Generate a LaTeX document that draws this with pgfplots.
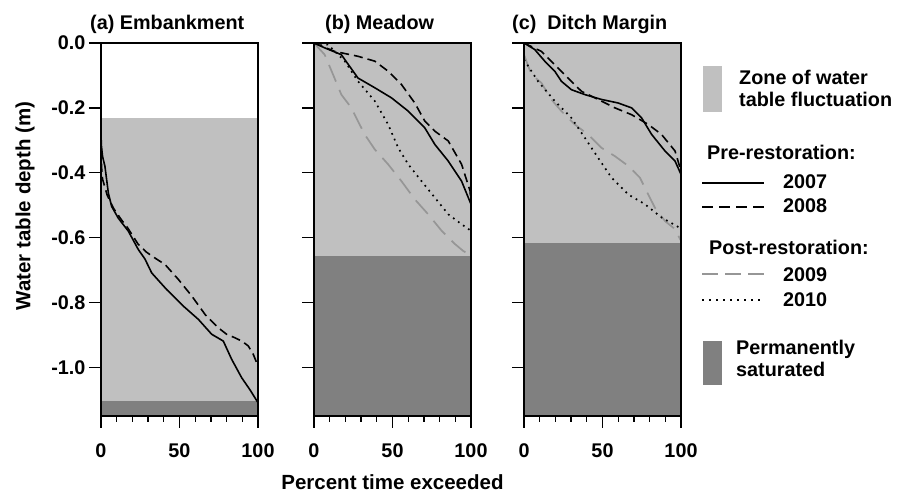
\documentclass[border=0pt]{standalone}
\usepackage{pgfplots}
\pgfplotsset{compat=1.18}
\usepackage{fontspec}
\setmainfont{Liberation Sans}
\definecolor{zone}{HTML}{C0C0C0}
\definecolor{sat}{HTML}{808080}
\definecolor{gnine}{HTML}{969696}
\newcommand{\bigf}{\fontsize{19.8}{22}\selectfont\bfseries}
\newcommand{\labf}{\fontsize{20.5}{23}\selectfont\bfseries}
\newcommand{\tickf}{\fontsize{19.8}{22}\selectfont\bfseries}
\tikzset{
  y07/.style={black, line width=1.6pt},
  y08/.style={black, line width=1.6pt, dash pattern=on 9pt off 5pt},
  y09/.style={gnine, line width=1.7pt, dash pattern=on 18pt off 9pt},
  y10/.style={black, line width=1.7pt, dash pattern=on 1.7pt off 4.5pt},
}
\pgfplotsset{
  panel/.style={
    scale only axis, width=157pt, height=373pt,
    xmin=0, xmax=100, ymin=-1.15, ymax=0,
    axis on top, axis line style={line width=1.3pt},
    tick align=outside, xtick pos=bottom, ytick pos=left,
    xtick={0,50,100}, minor xtick={10,20,30,40,60,70,80,90},
    major tick length=12pt, minor tick length=6pt,
    every tick/.append style={line width=1.3pt, black},
    every minor tick/.append style={line width=1.3pt, black},
    ytick={0,-0.2,-0.4,-0.6,-0.8,-1.0},
    xticklabels={0,50,100},
    xticklabel style={font=\tickf, yshift=-12pt},
    yticklabel style={font=\tickf},
    anchor=south west,
  },
}
\begin{document}
\begin{tikzpicture}[x=1pt,y=1pt]
\useasboundingbox (0,0) rectangle (904,494);

% (a) Embankment
\begin{axis}[panel, at={(101pt,78pt)},
  yticklabels={0.0,-0.2,-0.4,-0.6,-0.8,-1.0}]
\addplot[fill=zone, draw=none] coordinates {(0,-0.23) (100,-0.23) (100,-1.105) (0,-1.105)} -- cycle;
\addplot[fill=sat, draw=none] coordinates {(0,-1.105) (100,-1.105) (100,-1.15) (0,-1.15)} -- cycle;
\addplot[y07] coordinates {(0,-0.23) (0.1,-0.31) (1,-0.35) (2.5,-0.38) (4.7,-0.463) (6.8,-0.504) (11,-0.54) (17.4,-0.58) (23.8,-0.637) (28,-0.666) (32.3,-0.709) (41.8,-0.76) (52.4,-0.811) (62,-0.852) (70.5,-0.898) (77.9,-0.919) (83.2,-0.975) (89.6,-1.032) (95,-1.07) (100,-1.109)};
\addplot[y08] coordinates {(0,-0.24) (0.3,-0.38) (1,-0.42) (4,-0.47) (8,-0.51) (13,-0.545) (17,-0.57) (23.6,-0.62) (29,-0.645) (35,-0.665) (40.8,-0.683) (49.3,-0.729) (57.8,-0.78) (66.3,-0.837) (74.7,-0.878) (80,-0.898) (85.4,-0.909) (90,-0.92) (93.8,-0.934) (97,-0.96) (100,-0.996)};
\end{axis}

% (b) Meadow
\begin{axis}[panel, at={(314pt,78pt)}, yticklabels={}]
\addplot[fill=zone, draw=none] coordinates {(0,0) (100,0) (100,-0.657) (0,-0.657)} -- cycle;
\addplot[fill=sat, draw=none] coordinates {(0,-0.657) (100,-0.657) (100,-1.15) (0,-1.15)} -- cycle;
\addplot[y09] coordinates {(0,0) (6.8,-0.036) (12.1,-0.097) (17.4,-0.159) (23.8,-0.2) (28,-0.241) (32.3,-0.282) (38.7,-0.328) (47.2,-0.374) (55.7,-0.426) (64.2,-0.482) (72.7,-0.528) (81.3,-0.579) (89.8,-0.62) (95,-0.641) (100,-0.655)};
\addplot[y10] coordinates {(0,0) (8.9,-0.005) (19.6,-0.056) (28,-0.118) (38.7,-0.179) (47.2,-0.251) (53.6,-0.323) (60,-0.374) (68.5,-0.426) (77,-0.477) (85.5,-0.528) (94,-0.559) (100,-0.579)};
\addplot[y08] coordinates {(0,0) (13.2,-0.026) (28,-0.041) (38.7,-0.056) (47.2,-0.087) (55.7,-0.128) (64.2,-0.185) (70.6,-0.241) (77,-0.272) (85.5,-0.302) (94,-0.374) (99.4,-0.456) (100,-0.497)};
\addplot[y07] coordinates {(0,0) (6.8,-0.015) (17.4,-0.036) (28,-0.108) (38.7,-0.138) (49.3,-0.169) (60,-0.21) (70.6,-0.262) (77,-0.313) (85.5,-0.364) (94,-0.426) (100,-0.497)};
\end{axis}

% (c) Ditch Margin
\begin{axis}[panel, at={(524pt,78pt)}, yticklabels={}]
\addplot[fill=zone, draw=none] coordinates {(0,0) (100,0) (100,-0.617) (0,-0.617)} -- cycle;
\addplot[fill=sat, draw=none] coordinates {(0,-0.617) (100,-0.617) (100,-1.15) (0,-1.15)} -- cycle;
\addplot[y09] coordinates {(0,-0.036) (4.7,-0.097) (11.1,-0.123) (17.4,-0.174) (23.8,-0.21) (32.3,-0.251) (40.8,-0.282) (49.3,-0.323) (57.9,-0.349) (66.4,-0.379) (73.8,-0.415) (78,-0.456) (83.4,-0.508) (89.8,-0.549) (96.2,-0.574) (100,-0.61)};
\addplot[y10] coordinates {(0,-0.051) (8.9,-0.118) (19.6,-0.179) (30.2,-0.231) (38.7,-0.292) (47.2,-0.354) (55.7,-0.415) (66.4,-0.467) (77,-0.497) (87.6,-0.538) (100,-0.572)};
\addplot[y08] coordinates {(0,0) (11.1,-0.026) (19.6,-0.067) (28,-0.108) (36.6,-0.149) (47.2,-0.174) (57.9,-0.2) (68.5,-0.221) (79.1,-0.251) (87.6,-0.282) (96.2,-0.333) (100,-0.395)};
\addplot[y07] coordinates {(0,0) (6.8,-0.02) (13.2,-0.056) (19.6,-0.087) (23.8,-0.118) (30.2,-0.144) (38.7,-0.159) (49.3,-0.174) (60,-0.185) (68.5,-0.2) (74.9,-0.231) (81.3,-0.282) (89.8,-0.333) (96.2,-0.364) (100,-0.405)};
\end{axis}

% titles and labels
\node[anchor=base west, font=\bigf, inner sep=0] at (90,464) {(a) Embankment};
\node[anchor=base west, font=\bigf, inner sep=0] at (325,464) {(b) Meadow};
\node[anchor=base west, font=\bigf, inner sep=0] at (512,464) {(c)\ \ Ditch Margin};
\node[rotate=90, font=\labf, inner sep=0] at (25,288) {Water table depth (m)};
\node[anchor=base, font=\labf, inner sep=0] at (392.5,4.5) {Percent time exceeded};

% legend
\fill[zone] (703,382) rectangle (722,428);
\node[anchor=base west, font=\bigf, inner sep=0] at (739,409) {Zone of water};
\node[anchor=base west, font=\bigf, inner sep=0] at (739,387) {table fluctuation};
\node[anchor=base west, font=\bigf, inner sep=0] at (707,334) {Pre-restoration:};
\draw[y07] (702,311) -- (764,311);
\node[anchor=base west, font=\bigf, inner sep=0] at (783,305) {2007};
\draw[black, line width=1.6pt, dash pattern=on 11pt off 6pt] (702,287) -- (764,287);
\node[anchor=base west, font=\bigf, inner sep=0] at (783,281) {2008};
\node[anchor=base west, font=\bigf, inner sep=0] at (709,239) {Post-restoration:};
\draw[gnine, line width=1.7pt, dash pattern=on 16pt off 7pt] (702,220) -- (764,220);
\node[anchor=base west, font=\bigf, inner sep=0] at (783,212) {2009};
\draw[black, line width=1.5pt, dash pattern=on 1.7pt off 5.3pt] (702,194) -- (764,194);
\node[anchor=base west, font=\bigf, inner sep=0] at (783,187) {2010};
\fill[sat] (703,109) rectangle (722,153);
\node[anchor=base west, font=\bigf, inner sep=0] at (736,139) {Permanently};
\node[anchor=base west, font=\bigf, inner sep=0] at (736,117) {saturated};
\end{tikzpicture}
\end{document}
